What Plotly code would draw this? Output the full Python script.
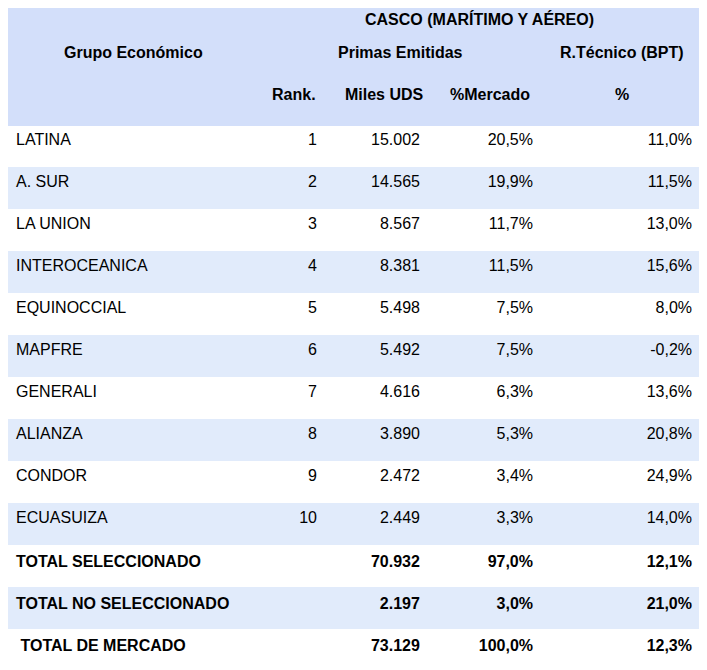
import plotly.graph_objects as go

grupos = ['LATINA', 'A. SUR', 'LA UNION', 'INTEROCEANICA', 'EQUINOCCIAL', 'MAPFRE',
          'GENERALI', 'ALIANZA', 'CONDOR', 'ECUASUIZA']
rank = [1, 2, 3, 4, 5, 6, 7, 8, 9, 10]
miles = ['15.002', '14.565', '8.567', '8.381', '5.498', '5.492', '4.616', '3.890', '2.472', '2.449']
mercado = ['20,5%', '19,9%', '11,7%', '11,5%', '7,5%', '7,5%', '6,3%', '5,3%', '3,4%', '3,3%']
rtec = ['11,0%', '11,5%', '13,0%', '15,6%', '8,0%', '-0,2%', '13,6%', '20,8%', '24,9%', '14,0%']

tot_names = ['TOTAL SELECCIONADO', 'TOTAL NO SELECCIONADO', ' TOTAL DE MERCADO']
tot_miles = ['70.932', '2.197', '73.129']
tot_mercado = ['97,0%', '3,0%', '100,0%']
tot_rtec = ['12,1%', '21,0%', '12,3%']

b = lambda s: '<b>' + s + '</b>'
col0 = grupos + [b(s) for s in tot_names]
col1 = [str(r) for r in rank] + ['', '', '']
col2 = miles + [b(s) for s in tot_miles]
col3 = mercado + [b(s) for s in tot_mercado]
col4 = rtec + [b(s) for s in tot_rtec]

W, H = 707, 670
HDR = '#d3dffa'
ALT = '#e1ebfb'
fills = ['white' if i % 2 == 0 else ALT for i in range(len(col0))]
FONT = 'Liberation Sans'

fig = go.Figure(go.Table(
    domain=dict(x=[0, 692 / W], y=[0, 1]),
    columnwidth=[242, 75, 103, 113, 159],
    header=dict(values=['', '', '', '', ''], height=117, fill_color=HDR,
                line=dict(color=HDR, width=1)),
    cells=dict(values=[col0, col1, col2, col3, col4], height=42,
               align=['left', 'right', 'right', 'right', 'right'],
               fill_color=[fills] * 5, line=dict(color=[fills] * 5, width=1),
               font=dict(family=FONT, size=16, color='black')),
))

# header labels (page body adds an 8px offset, so positions are shifted back)
hdr_text = [
    ('CASCO (MARÍTIMO Y AÉREO)', 472, 0, 'center', 'top'),
    ('Grupo Económico', 125, 44, 'center', 'middle'),
    ('Primas Emitidas', 392, 44, 'center', 'middle'),
    ('R.Técnico (BPT)', 614, 44, 'center', 'middle'),
    ('Rank.', 310, 87, 'right', 'middle'),
    ('Miles UDS', 418, 87, 'right', 'middle'),
    ('%Mercado', 482, 87, 'center', 'middle'),
    ('%', 614, 87, 'center', 'middle'),
]
for t, x, y, al, va in hdr_text:
    fig.add_annotation(text=b(t), x=x / W, y=1 - y / H, xref='paper', yref='paper',
                       xanchor=al, yanchor=va, showarrow=False,
                       font=dict(family=FONT, size=16, color='black'))

fig.update_layout(width=W, height=H, margin=dict(l=0, r=0, t=0, b=0),
                  paper_bgcolor='white')
fig.write_html('out.html')
